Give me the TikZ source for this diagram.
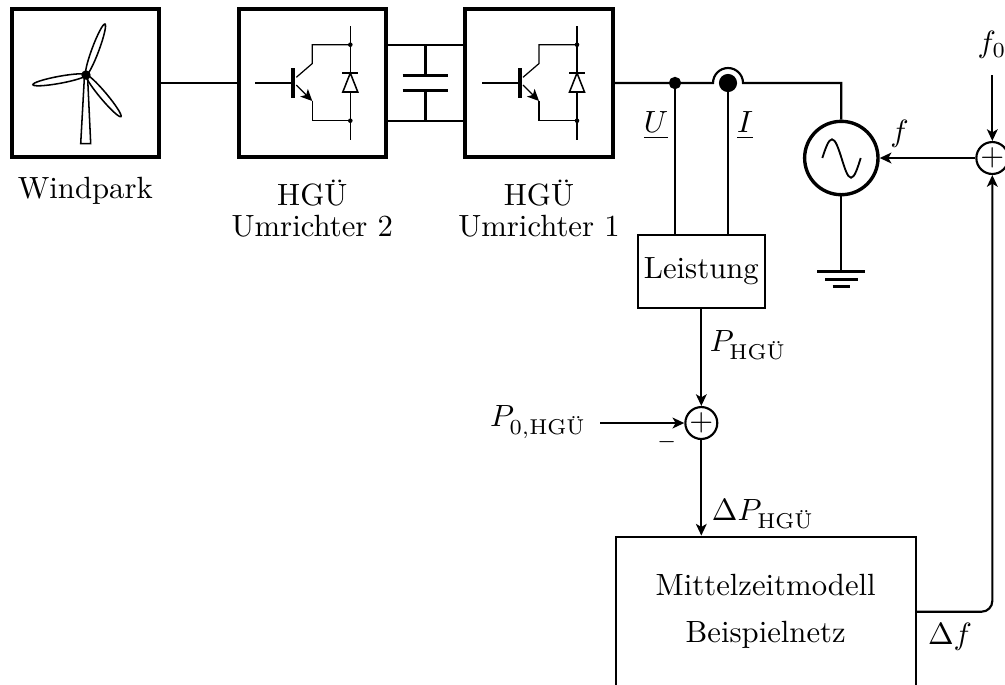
\documentclass[tikz,border=0pt]{standalone}
\usepackage{amsmath,amssymb,amsfonts}
\usepackage{xcolor}
\usetikzlibrary{shapes,arrows.meta,positioning}

\tikzset{
  heavybox/.style={draw, line width=1.3pt, minimum size=47.9pt, inner sep=0pt},
  sumnode/.style={draw, circle, minimum size=10.4pt, inner sep=0pt},
  blade/.style={draw, ellipse, line width=0.5pt, inner sep=0pt, minimum height=2.3pt, minimum width=17.7pt},
  igbt/.pic={
    \draw[line width=0.4pt] (38,-57) -- (38,56.5);
    \draw[line width=0.4pt] (-57,0) -- (-19,0);
    \draw[line width=1.3pt] (-19,-15) -- (-19,14.7);
    \draw[line width=0.4pt] (-16,-5.7) -- (0,-19.5) -- (0,-38.3) -- (38,-38.3);
    \draw[line width=0.4pt] (0,18) -- (0,37.7) -- (38,37.7);
    \draw[->, line width=0.4pt] (-16,2) -- (0,18);
    \fill (38,-38.3) circle (2.3);
    \fill (38,37.7) circle (2.3);
    \draw[line width=0.5pt, fill=white] (38,-10) -- (30.5,9) -- (45.5,9) -- cycle;
    \draw[line width=0.5pt] (30,-10) -- (46,-10);
  }
}

\begin{document}
\begin{tikzpicture}[x=0.3257pt, y=-0.3257pt, >={Stealth[length=3.8pt,width=3.5pt,inset=1pt]}, line width=0.7pt]
\useasboundingbox (0,0) rectangle (1005,684);
\clip (0,0) rectangle (1005,684);
% Anlage
\node[heavybox] (Wind) at (85.3,83) {};
\node[heavybox] (Conv2) at (312.3,83) {};
\node[heavybox] (Conv1) at (539,83) {};
\node[blade, rotate=69.6] (BladeA) at (95.5,49.5) {};
\node[blade, rotate=10.4] (BladeB) at (59.6,79.8) {};
\node[blade, rotate=-50] (BladeC) at (103.5,95.8) {};
\draw[line width=0.5pt] (80.7,143.7) -- (90.7,143.7) -- (87.5,75) -- (84.5,75) -- cycle;
\node[draw, circle, fill, minimum size=2.3pt, inner sep=0pt] (Hub) at (86,75) {};
\pic at (Conv2) {igbt};
\pic at (Conv1) {igbt};
\node (WindLabel) at (85.3,191) {Windpark};
\node[align=center] (Conv2Label) at (312.3,208.5) {HGÜ\\[-2pt]Umrichter 2};
\node[align=center] (Conv1Label) at (539,208.5) {HGÜ\\[-2pt]Umrichter 1};
\draw (Wind) -- (Conv2);
% Zwischenkreis
\coordinate (DcTopL) at (387,44.7);
\coordinate (DcTopR) at (464,44.7);
\coordinate (DcBotL) at (387,120.7);
\coordinate (DcBotR) at (464,120.7);
\coordinate (CapTop) at (425.5,44.7);
\coordinate (CapBot) at (425.5,120.7);
\coordinate (PlateA) at (425.5,75.3);
\coordinate (PlateB) at (425.5,90.3);
\draw (DcTopL) -- (DcTopR);
\draw (DcBotL) -- (DcBotR);
\draw (CapTop) -- (PlateA);
\draw (CapBot) -- (PlateB);
\draw[line width=1pt] (402.7,75.3) -- (448.3,75.3);
\draw[line width=1pt] (402.7,90.3) -- (448.3,90.3);
% Netz
\node[draw, circle, fill, minimum size=3.3pt, inner sep=0pt] (JuncU) at (675,83) {};
\node[draw, circle, fill, minimum size=5.2pt, inner sep=0pt] (JuncI) at (728,83) {};
\node[draw, line width=1.1pt, circle, minimum size=23.9pt, inner sep=0pt] (Src) at (841.3,158) {};
\node[draw, minimum width=41.4pt, minimum height=23.8pt, inner sep=0pt] (Leistung) at (701.3,271.5) {Leistung};
\coordinate (HopL) at (713,83);
\coordinate (HopR) at (743,83);
\draw (Conv1) -- (JuncU) -- (HopL) arc (180:360:15) -- (HopR) -| (Src);
\draw[line width=0.6pt] (822.3,158) sin (832,139.3) cos (841.5,158) sin (851,177.7) cos (860.7,158);
\coordinate (Gnd) at (841.3,271.7);
\draw (Src) -- (Gnd);
\draw[line width=1pt] (817.3,271.7) -- (865,271.7);
\draw[line width=1pt] (825,279.3) -- (857.7,279.3);
\draw[line width=1pt] (832.7,286.7) -- (850,286.7);
\draw (JuncU) -- (JuncU |- Leistung.north);
\draw (JuncI) -- (JuncI |- Leistung.north);
\node (ULabel) at (656,125.5) {$\underline{U}$};
\node (ILabel) at (745,125.5) {$\underline{I}$};
% Regelung
\node[sumnode] (SumF) at (992.3,158) {$+$};
\node[sumnode] (SumP) at (701.3,423) {$+$};
\node[draw, minimum width=97.7pt, minimum height=48.9pt, align=center, inner sep=0pt] (Model) at (765.7,611.7) {Mittelzeitmodell\\[3.3pt]Beispielnetz};
\coordinate (F0End) at (992.3,75);
\coordinate (P0End) at (600,423);
\draw[->] (F0End) -- (SumF);
\draw[->] (SumF) -- (Src);
\draw[->] (Leistung) -- (SumP);
\draw[->] (P0End) -- (SumP);
\draw[->] (SumP) -- (SumP |- Model.north);
\draw[->, rounded corners=3.5pt] (Model.east) -| (SumF);
\node (F0Label) at (992,45) {$f_0$};
\node (FLabel) at (899.5,133.5) {$f$};
\node (PLabel) at (748,345) {$P_{\text{HGÜ}}$};
\node (P0Label) at (538,422) {$P_{0,\text{HGÜ}}$};
\node (Minus) at (666.7,442) {$\scriptstyle -$};
\node (DPLabel) at (763,514) {$\Delta P_{\text{HGÜ}}$};
\node (DFLabel) at (950,636.7) {$\Delta f$};
\end{tikzpicture}
\end{document}
